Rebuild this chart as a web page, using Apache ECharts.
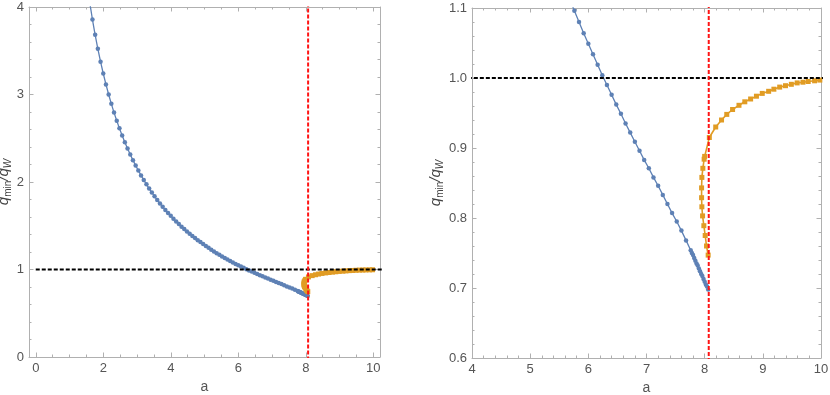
<!DOCTYPE html>
<html>
<head>
<meta charset="utf-8">
<script src="https://cdn.jsdelivr.net/npm/echarts@6/dist/echarts.min.js"></script>
<style>
  html, body { margin: 0; background: #fff; }
  #main { width: 830px; height: 395px; }
</style>
</head>
<body>
<div id="main"></div>
<script>
// blue branch (circles)
var blueA = [1.60,1.68,1.76,1.84,1.92,2.00,2.08,2.16,2.24,2.32,2.40,2.48,2.56,2.64,2.72,2.80,2.88,2.96,
  3.04,3.12,3.20,3.28,3.36,3.44,3.52,3.60,3.68,3.76,3.84,3.92,4.00,4.08,4.16,4.24,4.32,4.40,4.48,4.56,
  4.64,4.72,4.80,4.88,4.96,5.04,5.12,5.20,5.28,5.36,5.44,5.52,5.60,5.68,5.76,5.84,5.92,6.00,6.08,6.16,
  6.24,6.32,6.40,6.48,6.56,6.64,6.72,6.80,6.88,6.96,7.04,7.12,7.20,7.28,7.36,7.44,7.52,7.60,7.68,7.76,
  7.78,7.80,7.82,7.84,7.86,7.88,7.90,7.92,7.94,7.96,7.98,8.00,8.02,8.04,8.06];
var blueQ = [4.050,3.857,3.682,3.522,3.375,3.240,3.115,3.000,2.893,2.793,2.700,2.613,2.531,2.455,2.382,2.314,2.250,2.189,
  2.131,2.075,2.023,1.973,1.925,1.880,1.836,1.795,1.755,1.717,1.681,1.646,1.613,1.580,1.549,1.519,1.490,1.462,1.435,1.409,
  1.384,1.359,1.335,1.313,1.291,1.269,1.248,1.227,1.206,1.187,1.168,1.150,1.131,1.113,1.096,1.080,1.064,1.049,1.034,1.019,
  1.004,0.990,0.976,0.962,0.949,0.935,0.922,0.909,0.896,0.883,0.871,0.858,0.846,0.833,0.820,0.807,0.795,0.782,0.768,0.754,
  0.750,0.747,0.743,0.739,0.735,0.732,0.728,0.724,0.720,0.717,0.713,0.709,0.705,0.702,0.698];

// orange branch (squares)
var orangeA = [8.060,8.032,8.009,7.986,7.964,7.952,7.947,7.947,7.952,7.969,7.991,8.000,
  8.08,8.19,8.29,8.38,8.48,8.59,8.69,8.79,8.89,8.99,9.10,9.19,9.29,9.39,9.49,9.59,9.69,9.78,9.89,9.98];
var orangeQ = [0.747,0.760,0.775,0.789,0.803,0.816,0.829,0.843,0.858,0.871,0.884,0.888,
  0.915,0.930,0.940,0.948,0.955,0.961,0.966,0.970,0.974,0.978,0.981,0.984,0.987,0.989,0.991,0.993,0.994,0.995,0.996,0.997];

var aCrit = 8.07;   // red dashed
var qRef = 1;       // black dashed

var leftXTicks = [0, 2, 4, 6, 8, 10];
var leftYTicks = [0, 1, 2, 3, 4];
var rightXTicks = [4, 5, 6, 7, 8, 9, 10];
var rightYTicks = [0.6, 0.7, 0.8, 0.9, 1.0, 1.1];

var BLUE = '#5e81b5', ORANGE = '#e19c24', FRAME = '#b0b0b0', TXT = '#555';
var FONT = 'Liberation Sans, Arial, sans-serif';

function minorTicks(from, to, step) {
  var out = [];
  for (var v = from; v <= to + 1e-9; v += step) out.push(Math.round(v * 1000) / 1000);
  return out;
}

var qName = '{q|q}{s|min}{q|/q}{w|W}';
var qRich = {
  q: { fontStyle: 'italic', fontSize: 15, color: '#444', fontFamily: FONT },
  s: { fontSize: 10, color: '#444', padding: [9, 0, 0, 0], fontFamily: FONT },
  w: { fontSize: 10, fontStyle: 'italic', color: '#444', padding: [9, 0, 0, 0], fontFamily: FONT }
};

function axis(dim, grid, min, max, pos, ticks, len, lineOn, fmt, name, gap) {
  return {
    type: 'value', gridIndex: grid, min: min, max: max, position: pos,
    name: name || '', nameLocation: 'middle', nameGap: gap || 0,
    nameTextStyle: dim === 'x'
      ? { color: TXT, fontSize: 14, fontFamily: FONT }
      : { rich: qRich },
    axisLine: { show: lineOn, onZero: false, lineStyle: { color: FRAME, width: 1 } },
    axisTick: { show: true, inside: true, length: len, customValues: ticks,
                lineStyle: { color: FRAME, width: 1 } },
    axisLabel: { show: !!fmt, customValues: ticks, formatter: fmt, color: TXT,
                 fontSize: 13, fontFamily: FONT, margin: 5 },
    splitLine: { show: false }
  };
}

var fInt = function (v) { return String(Math.round(v)); };
var fOne = function (v) { return v.toFixed(1); };

var xAxes = [], yAxes = [];
function frame(grid, xr, yr, xT, xM, yT, yM, fx, fy, yGap) {
  xAxes.push(axis('x', grid, xr[0], xr[1], 'bottom', xT, 4.5, true, fx, 'a', 19));
  xAxes.push(axis('x', grid, xr[0], xr[1], 'bottom', xM, 2.5, false));
  xAxes.push(axis('x', grid, xr[0], xr[1], 'top', xT, 4.5, true));
  xAxes.push(axis('x', grid, xr[0], xr[1], 'top', xM, 2.5, false));
  yAxes.push(axis('y', grid, yr[0], yr[1], 'left', yT, 4.5, true, fy, qName, yGap));
  yAxes.push(axis('y', grid, yr[0], yr[1], 'left', yM, 2.5, false));
  yAxes.push(axis('y', grid, yr[0], yr[1], 'right', yT, 4.5, true));
  yAxes.push(axis('y', grid, yr[0], yr[1], 'right', yM, 2.5, false));
}

frame(0, [-0.2, 10.2], [0, 4], leftXTicks, minorTicks(0, 10, 0.5),
      leftYTicks, minorTicks(0, 4, 0.2), fInt, fInt, 12);
frame(1, [4, 10], [0.6, 1.1], rightXTicks, minorTicks(4, 10, 0.2),
      rightYTicks, minorTicks(0.6, 1.1, 0.02), fInt, fOne, 25);

var bluePts = blueA.map(function (a, i) { return [a, blueQ[i]]; });
var orangePts = orangeA.map(function (a, i) { return [a, orangeQ[i]]; });

var series = [];
[0, 1].forEach(function (g) {
  var xi = g * 4, yi = g * 4;
  series.push({
    type: 'line', xAxisIndex: xi, yAxisIndex: yi, data: bluePts,
    symbol: 'circle', symbolSize: 4.5, showAllSymbol: true,
    lineStyle: { color: BLUE, width: 1.3 }, itemStyle: { color: BLUE }, z: 3
  });
  series.push({
    type: 'line', xAxisIndex: xi, yAxisIndex: yi, data: orangePts,
    symbol: 'rect', symbolSize: 5, showAllSymbol: true,
    lineStyle: { color: ORANGE, width: 1.6 }, itemStyle: { color: ORANGE }, z: 3
  });
  series.push({
    type: 'line', xAxisIndex: xi, yAxisIndex: yi, data: [[g ? 3 : 0, qRef], [11, qRef]],
    showSymbol: false, lineStyle: { color: '#000', width: 1.8, type: [4, 2] }, z: 4
  });
  series.push({
    type: 'line', xAxisIndex: xi, yAxisIndex: yi, data: [[aCrit, -1], [aCrit, 5]],
    showSymbol: false, lineStyle: { color: '#ff1414', width: 2, type: [4, 2] }, z: 5
  });
});

var chart = echarts.init(document.getElementById('main'));
chart.setOption({
  animation: false,
  backgroundColor: '#fff',
  grid: [
    { left: 29, top: 7, width: 351, height: 350, outerBoundsMode: 'none' },
    { left: 472, top: 8, width: 349, height: 350, outerBoundsMode: 'none' }
  ],
  xAxis: xAxes,
  yAxis: yAxes,
  series: series
});
</script>
</body>
</html>
